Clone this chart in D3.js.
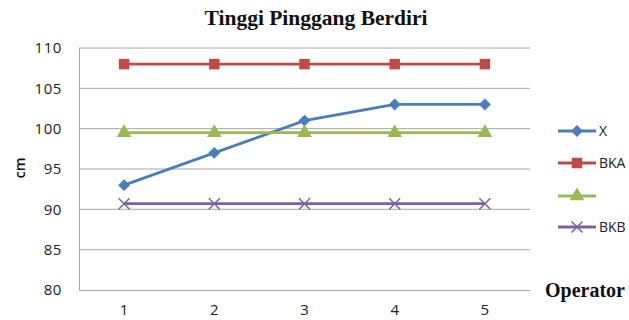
<!DOCTYPE html>
<html>
<head>
<meta charset="utf-8">
<script src="https://cdn.jsdelivr.net/npm/d3@7"></script>
<style>
  body { margin: 0; background: #fff; }
  svg { display: block; }
</style>
</head>
<body>
<svg id="chart" width="629" height="320"></svg>
<script>
const operators = [1, 2, 3, 4, 5];
const seriesX = [93, 97, 101, 103, 103];
const seriesBKA = [108, 108, 108, 108, 108];
const seriesMid = [99.5, 99.5, 99.5, 99.5, 99.5];
const seriesBKB = [90.7, 90.7, 90.7, 90.7, 90.7];
const yTicks = [80, 85, 90, 95, 100, 105, 110];

const series = [
  { name: "X", values: seriesX, color: "#4A7EBB", marker: "diamond" },
  { name: "BKA", values: seriesBKA, color: "#BE4B48", marker: "square" },
  { name: "", values: seriesMid, color: "#98B954", marker: "triangle" },
  { name: "BKB", values: seriesBKB, color: "#7D60A0", marker: "cross" }
];

const svg = d3.select("#chart");
const plot = { left: 79, right: 530, top: 48, bottom: 290 };
const labelFont = "'Open Sans', sans-serif";

const x = d3.scaleBand().domain(operators).range([plot.left, plot.right]);
const y = d3.scaleLinear().domain([80, 110]).range([plot.bottom, plot.top]);
const cx = d => x(d) + x.bandwidth() / 2;

// gridlines
svg.append("g")
  .selectAll("line")
  .data(yTicks.filter(t => t > 80))
  .join("line")
  .attr("x1", plot.left).attr("x2", plot.right)
  .attr("y1", d => y(d)).attr("y2", d => y(d))
  .attr("stroke", "#a6a6a6").attr("stroke-width", 1);

// y axis
const yAxis = svg.append("g")
  .attr("transform", `translate(${plot.left},0)`)
  .call(d3.axisLeft(y).tickValues(yTicks).tickSize(0).tickPadding(17));
yAxis.select(".domain").attr("stroke", "#a6a6a6");
yAxis.selectAll("text")
  .attr("font-family", labelFont)
  .attr("font-size", 15).attr("letter-spacing", 0.6).attr("fill", "#222");

// x axis
const xAxis = svg.append("g")
  .attr("transform", `translate(0,${plot.bottom})`)
  .call(d3.axisBottom(x).tickSize(0).tickPadding(14));
xAxis.select(".domain").attr("stroke", "#a6a6a6");
xAxis.selectAll("text")
  .attr("font-family", labelFont)
  .attr("font-size", 15).attr("fill", "#222");

// marker shapes
const symbols = {
  diamond: d3.symbol().type(d3.symbolDiamond2).size(90),
  square: d3.symbol().type(d3.symbolSquare).size(110),
  triangle: d3.symbol().type(d3.symbolTriangle).size(95)
};

function drawMarker(g, kind, color, px, py) {
  if (kind === "cross") {
    const r = 5.5;
    g.append("path")
      .attr("d", `M${px - r},${py - r}L${px + r},${py + r}M${px - r},${py + r}L${px + r},${py - r}`)
      .attr("stroke", color).attr("stroke-width", 1.5).attr("fill", "none");
  } else {
    g.append("path")
      .attr("d", symbols[kind]())
      .attr("transform", `translate(${px},${py})`)
      .attr("fill", color);
  }
}

const line = d3.line().x((d, i) => cx(operators[i])).y(d => y(d));

series.forEach(s => {
  const g = svg.append("g");
  g.append("path")
    .datum(s.values)
    .attr("d", line)
    .attr("fill", "none")
    .attr("stroke", s.color)
    .attr("stroke-width", 2.8);
  s.values.forEach((v, i) => drawMarker(g, s.marker, s.color, cx(operators[i]), y(v)));
});

// legend
const legendY = [131, 163, 196, 227];
const legend = svg.append("g");
series.forEach((s, i) => {
  const ly = legendY[i];
  legend.append("line")
    .attr("x1", 558).attr("x2", 596)
    .attr("y1", ly).attr("y2", ly)
    .attr("stroke", s.color).attr("stroke-width", 2.8);
  drawMarker(legend, s.marker, s.color, 577, ly);
  legend.append("text")
    .attr("x", 599).attr("y", ly + 5)
    .attr("font-family", labelFont)
    .attr("font-size", 14).attr("fill", "#222")
    .text(s.name);
});

// title
svg.append("text")
  .attr("x", 316).attr("y", 25)
  .attr("text-anchor", "middle")
  .attr("font-family", "'Liberation Serif', serif")
  .attr("font-weight", "bold").attr("font-size", 21.5)
  .attr("fill", "#111")
  .text("Tinggi Pinggang Berdiri");

// axis titles
svg.append("text")
  .attr("x", 625).attr("y", 297)
  .attr("text-anchor", "end")
  .attr("font-family", "'Liberation Serif', serif")
  .attr("font-weight", "bold").attr("font-size", 20)
  .attr("fill", "#111")
  .text("Operator");

svg.append("text")
  .attr("transform", "translate(25,168) rotate(-90)")
  .attr("text-anchor", "middle")
  .attr("font-family", labelFont)
  .attr("font-weight", 600).attr("font-size", 14.5)
  .attr("fill", "#111")
  .text("cm");
</script>
</body>
</html>
